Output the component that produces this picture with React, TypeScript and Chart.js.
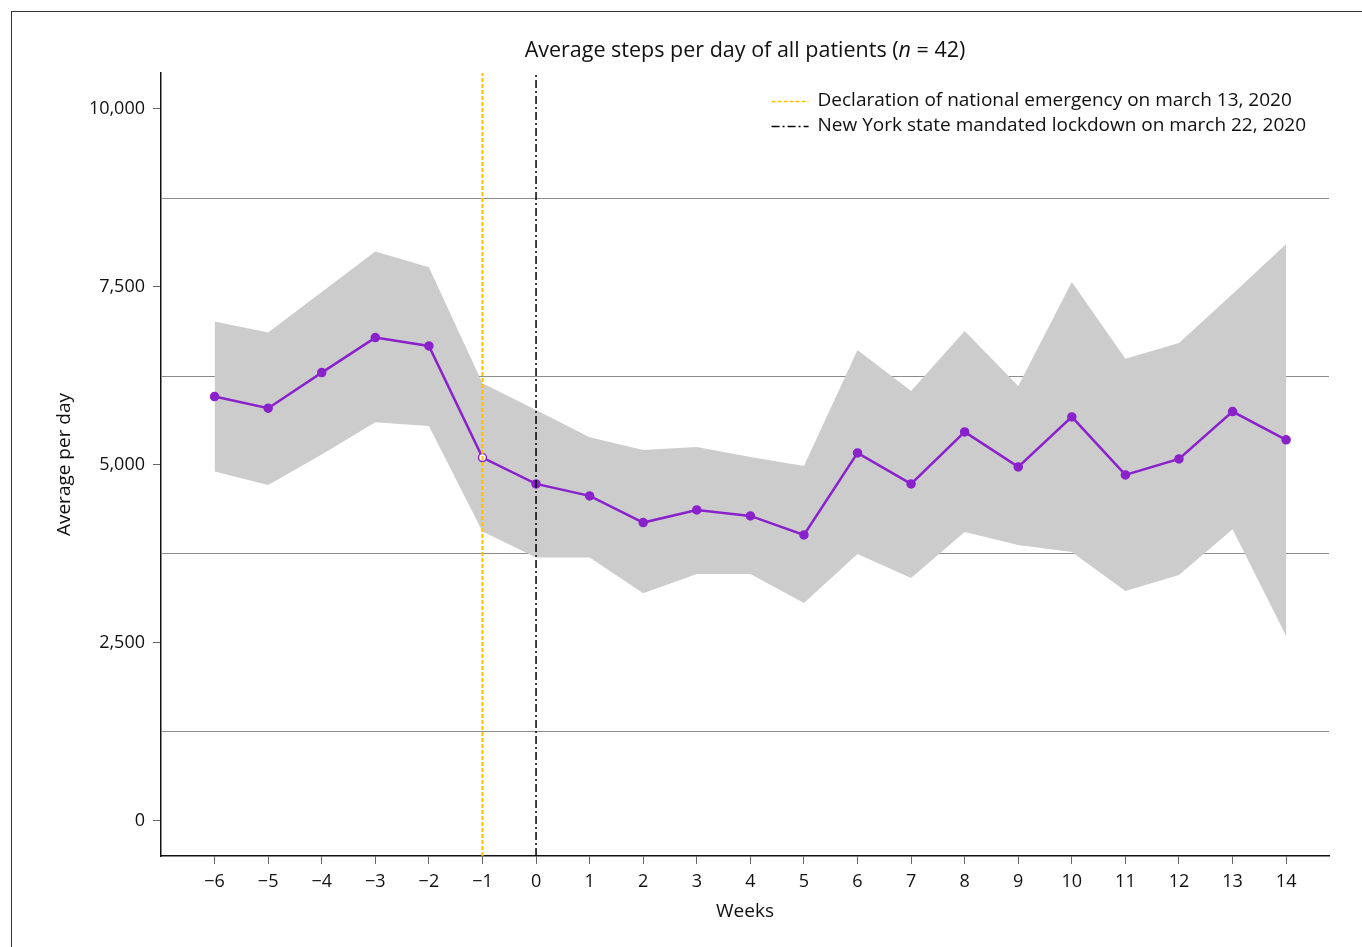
import React, { useEffect, useRef } from "react";
import { Chart, registerables } from "chart.js";

Chart.register(...registerables);

// ---------- data ----------
const weeks = [-6, -5, -4, -3, -2, -1, 0, 1, 2, 3, 4, 5, 6, 7, 8, 9, 10, 11, 12, 13, 14];
const meanSteps = [5954, 5791, 6291, 6783, 6666, 5097, 4727, 4559, 4184, 4362, 4278, 4011, 5163, 4727, 5458, 4966, 5669, 4854, 5079, 5743, 5346];
const upperBand = [7008, 6853, 7425, 7991, 7772, 6142, 5767, 5384, 5205, 5247, 5107, 4980, 6610, 6034, 6877, 6104, 7565, 6484, 6708, 7397, 8099];
const lowerBand = [4900, 4713, 5140, 5594, 5542, 4057, 3692, 3692, 3192, 3463, 3463, 3056, 3744, 3407, 4053, 3870, 3772, 3224, 3449, 4091, 2592];
const yTickValues = [0, 2500, 5000, 7500, 10000];
const gridValues = [1250, 3750, 6250, 8750];
const xTickValues = weeks;
const emergencyWeek = -1;
const lockdownWeek = 0;
const hollowWeeks = [-1];
const Y_MIN = -500;
const Y_MAX = 10500;
const X_MIN = -7;
const X_MAX = 14.8;
const titleParts = ["Average steps per day of all patients (", "n", " = 42)"];
const legendLabels = [
  "Declaration of national emergency on march 13, 2020",
  "New York state mandated lockdown on march 22, 2020",
];
const yAxisTitle = "Average per day";
const xAxisTitle = "Weeks";

// ---------- styles ----------
const FONT = "'Open Sans', 'Noto Sans', sans-serif";
const PURPLE = "#8a22cc";
const ORANGE = "#ffc000";
const BAND = "#cccccc";
const EMERGENCY_DASH = [4, 2];
const LOCKDOWN_DASH = [8, 3, 2, 3];

const decorPlugin = {
  id: "decor",
  beforeDatasetsDraw(chart: any) {
    const { ctx, chartArea, scales } = chart;
    ctx.save();
    ctx.strokeStyle = "#8c8c8c";
    ctx.lineWidth = 1;
    gridValues.forEach((v) => {
      const y = Math.round(scales.y.getPixelForValue(v)) + 0.5;
      ctx.beginPath();
      ctx.moveTo(chartArea.left, y);
      ctx.lineTo(chartArea.right, y);
      ctx.stroke();
    });
    ctx.restore();
  },
  afterDraw(chart: any) {
    const { ctx, chartArea } = chart;
    ctx.save();
    // title
    const normal = `21.5px ${FONT}`;
    const italic = `italic 21.5px ${FONT}`;
    ctx.font = normal;
    const w0 = ctx.measureText(titleParts[0]).width;
    const w2 = ctx.measureText(titleParts[2]).width;
    ctx.font = italic;
    const w1 = ctx.measureText(titleParts[1]).width;
    const total = w0 + w1 + w2;
    let x = (chartArea.left + chartArea.right) / 2 - total / 2;
    const ty = chartArea.top - 22;
    ctx.fillStyle = "#111";
    ctx.textBaseline = "middle";
    ctx.textAlign = "left";
    ctx.font = normal;
    ctx.fillText(titleParts[0], x, ty);
    x += w0;
    ctx.font = italic;
    ctx.fillText(titleParts[1], x, ty);
    x += w1;
    ctx.font = normal;
    ctx.fillText(titleParts[2], x, ty);

    // legend
    ctx.font = `19px ${FONT}`;
    const textW = Math.max(...legendLabels.map((l) => ctx.measureText(l).width));
    const sampleW = 37;
    const gap = 9;
    const lx = chartArea.right - 23 - textW - gap - sampleW;
    const styles = [
      { color: ORANGE, dash: EMERGENCY_DASH, width: 1.5 },
      { color: "#000", dash: LOCKDOWN_DASH, width: 1.5 },
    ];
    legendLabels.forEach((label, i) => {
      const ly = chartArea.top + 28 + i * 25;
      ctx.beginPath();
      ctx.setLineDash(styles[i].dash);
      ctx.strokeStyle = styles[i].color;
      ctx.lineWidth = styles[i].width;
      ctx.moveTo(lx, ly + 0.5);
      ctx.lineTo(lx + sampleW, ly + 0.5);
      ctx.stroke();
      ctx.setLineDash([]);
      ctx.fillStyle = "#111";
      ctx.fillText(label, lx + sampleW + gap, ly);
    });
    ctx.restore();
  },
};

export default function App() {
  const ref = useRef<HTMLCanvasElement | null>(null);

  useEffect(() => {
    if (!ref.current) return;
    const chart = new Chart(ref.current, {
      type: "line",
      data: {
        datasets: [
          {
            label: legendLabels[0],
            data: [
              { x: emergencyWeek, y: Y_MIN },
              { x: emergencyWeek, y: Y_MAX },
            ],
            borderColor: ORANGE,
            borderWidth: 2,
            borderDash: EMERGENCY_DASH,
            pointRadius: 0,
            fill: false,
          },
          {
            label: legendLabels[1],
            data: [
              { x: lockdownWeek, y: Y_MIN },
              { x: lockdownWeek, y: Y_MAX },
            ],
            borderColor: "#000",
            borderWidth: 1.5,
            borderDash: LOCKDOWN_DASH,
            pointRadius: 0,
            fill: false,
          },
          {
            label: "Mean",
            data: weeks.map((w, i) => ({ x: w, y: meanSteps[i] })),
            borderColor: PURPLE,
            borderWidth: 2.5,
            pointRadius: 4,
            pointBorderWidth: 1.5,
            pointBorderColor: PURPLE,
            pointBackgroundColor: weeks.map((w) => (hollowWeeks.includes(w) ? "#ffffff" : PURPLE)),
            fill: false,
            tension: 0,
          },
          {
            label: "Upper",
            data: weeks.map((w, i) => ({ x: w, y: upperBand[i] })),
            borderWidth: 0,
            borderColor: BAND,
            backgroundColor: BAND,
            pointRadius: 0,
            fill: "+1",
            tension: 0,
          },
          {
            label: "Lower",
            data: weeks.map((w, i) => ({ x: w, y: lowerBand[i] })),
            borderWidth: 0,
            borderColor: BAND,
            backgroundColor: BAND,
            pointRadius: 0,
            fill: false,
            tension: 0,
          },
        ],
      },
      options: {
        responsive: false,
        animation: false,
        events: [],
        devicePixelRatio: 1,
        layout: { padding: { top: 73, right: 33, left: 0, bottom: 0 } },
        plugins: {
          legend: { display: false },
          title: { display: false },
          tooltip: { enabled: false },
        },
        scales: {
          x: {
            type: "linear",
            min: X_MIN,
            max: X_MAX,
            afterBuildTicks: (s: any) => {
              s.ticks = xTickValues.map((v) => ({ value: v }));
            },
            afterFit: (s: any) => {
              s.height = 91;
            },
            ticks: {
              autoSkip: false,
              maxRotation: 0,
              padding: 7,
              color: "#111",
              font: { family: FONT, size: 18 },
              callback: (v: any) => (Number(v) < 0 ? "\u2212" + Math.abs(Number(v)) : String(v)),
            },
            grid: {
              display: true,
              drawOnChartArea: false,
              drawTicks: true,
              tickLength: 8,
              color: "#666",
              lineWidth: 1,
            },
            border: { display: true, color: "#111", width: 1.5 },
            title: {
              display: true,
              text: xAxisTitle,
              color: "#111",
              font: { family: FONT, size: 19 },
              padding: { top: 0, bottom: 24.5 },
            },
          },
          y: {
            type: "linear",
            min: Y_MIN,
            max: Y_MAX,
            afterBuildTicks: (s: any) => {
              s.ticks = yTickValues.map((v) => ({ value: v }));
            },
            afterFit: (s: any) => {
              s.width = 161;
            },
            ticks: {
              padding: 8,
              color: "#111",
              font: { family: FONT, size: 18 },
              callback: (v: any) => Number(v).toLocaleString("en-US"),
            },
            grid: {
              display: true,
              drawOnChartArea: false,
              drawTicks: true,
              tickLength: 8,
              color: "#666",
              lineWidth: 1,
            },
            border: { display: true, color: "#111", width: 1.5 },
            title: {
              display: true,
              text: yAxisTitle,
              color: "#111",
              font: { family: FONT, size: 19 },
              padding: { top: 53.5, bottom: 0 },
            },
          },
        },
      },
      plugins: [decorPlugin],
    } as any);
    return () => chart.destroy();
  }, []);

  return (
    <div
      style={{
        position: "fixed",
        left: 0,
        top: 0,
        width: 1362,
        height: 947,
        overflow: "hidden",
        background: "#fff",
      }}
    >
      <div
        style={{
          position: "absolute",
          left: 11,
          top: 11,
          width: 1500,
          height: 1100,
          borderTop: "1.5px solid #333",
          borderLeft: "1.5px solid #333",
        }}
      />
      <canvas
        ref={ref}
        width={1362}
        height={947}
        style={{ position: "absolute", left: 0, top: 0, width: 1362, height: 947 }}
      />
    </div>
  );
}
